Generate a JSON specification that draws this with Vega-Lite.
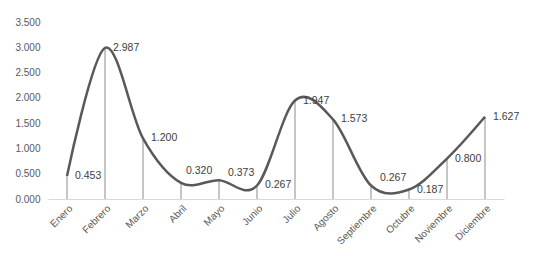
{
  "$schema": "https://vega.github.io/schema/vega-lite/v6.json",
  "autosize": "none",
  "width": 456,
  "height": 177,
  "padding": {"left": 48, "top": 22, "right": 40, "bottom": 57},
  "background": "white",
  "config": {
    "view": {"stroke": null},
    "font": "Liberation Sans"
  },
  "data": {
    "values": [
      {"mes": "Enero", "valor": 0.453},
      {"mes": "Febrero", "valor": 2.987},
      {"mes": "Marzo", "valor": 1.2},
      {"mes": "Abril", "valor": 0.32},
      {"mes": "Mayo", "valor": 0.373},
      {"mes": "Junio", "valor": 0.267},
      {"mes": "Julio", "valor": 1.947},
      {"mes": "Agosto", "valor": 1.573},
      {"mes": "Septiembre", "valor": 0.267},
      {"mes": "Octubre", "valor": 0.187},
      {"mes": "Noviembre", "valor": 0.8},
      {"mes": "Diciembre", "valor": 1.627}
    ]
  },
  "encoding": {
    "x": {
      "field": "mes",
      "type": "ordinal",
      "sort": null,
      "scale": {"type": "point", "padding": 0.5},
      "axis": {
        "title": null,
        "labelAngle": -45,
        "labelAlign": "right",
        "labelBaseline": "top",
        "labelFontSize": 10,
        "labelColor": "#595959",
        "labelPadding": 4,
        "labelOverlap": false,
        "ticks": false,
        "domainColor": "#d9d9d9",
        "domainWidth": 1
      }
    },
    "y": {
      "field": "valor",
      "type": "quantitative",
      "scale": {"domain": [0, 3.5], "nice": false},
      "axis": {
        "title": null,
        "values": [0, 0.5, 1, 1.5, 2, 2.5, 3, 3.5],
        "format": ".3f",
        "grid": false,
        "domain": false,
        "ticks": false,
        "labelOverlap": false,
        "labelFlush": false,
        "labelFontSize": 10,
        "labelColor": "#595959",
        "labelPadding": 8
      }
    }
  },
  "layer": [
    {
      "mark": {"type": "rule", "color": "#8c8c8c", "strokeWidth": 1},
      "encoding": {
        "y2": {"datum": 0}
      }
    },
    {
      "mark": {"type": "line", "interpolate": "cardinal", "color": "#595959", "strokeWidth": 2.5},
      "encoding": {}
    },
    {
      "transform": [{"filter": "datum.mes !== 'Abril' && datum.mes !== 'Mayo' && datum.mes !== 'Septiembre'"}],
      "mark": {"type": "text", "align": "left", "dx": 8, "fontSize": 10.5, "color": "#404040", "baseline": "middle"},
      "encoding": {
        "text": {"field": "valor", "type": "quantitative", "format": ".3f"}
      }
    },
    {
      "transform": [{"filter": "datum.mes === 'Abril'"}],
      "mark": {"type": "text", "align": "left", "dx": 5, "dy": -12, "fontSize": 10.5, "color": "#404040", "baseline": "middle"},
      "encoding": {
        "text": {"field": "valor", "type": "quantitative", "format": ".3f"}
      }
    },
    {
      "transform": [{"filter": "datum.mes === 'Mayo' || datum.mes === 'Septiembre'"}],
      "mark": {"type": "text", "align": "left", "dx": 9, "dy": -7, "fontSize": 10.5, "color": "#404040", "baseline": "middle"},
      "encoding": {
        "text": {"field": "valor", "type": "quantitative", "format": ".3f"}
      }
    }
  ]
}
